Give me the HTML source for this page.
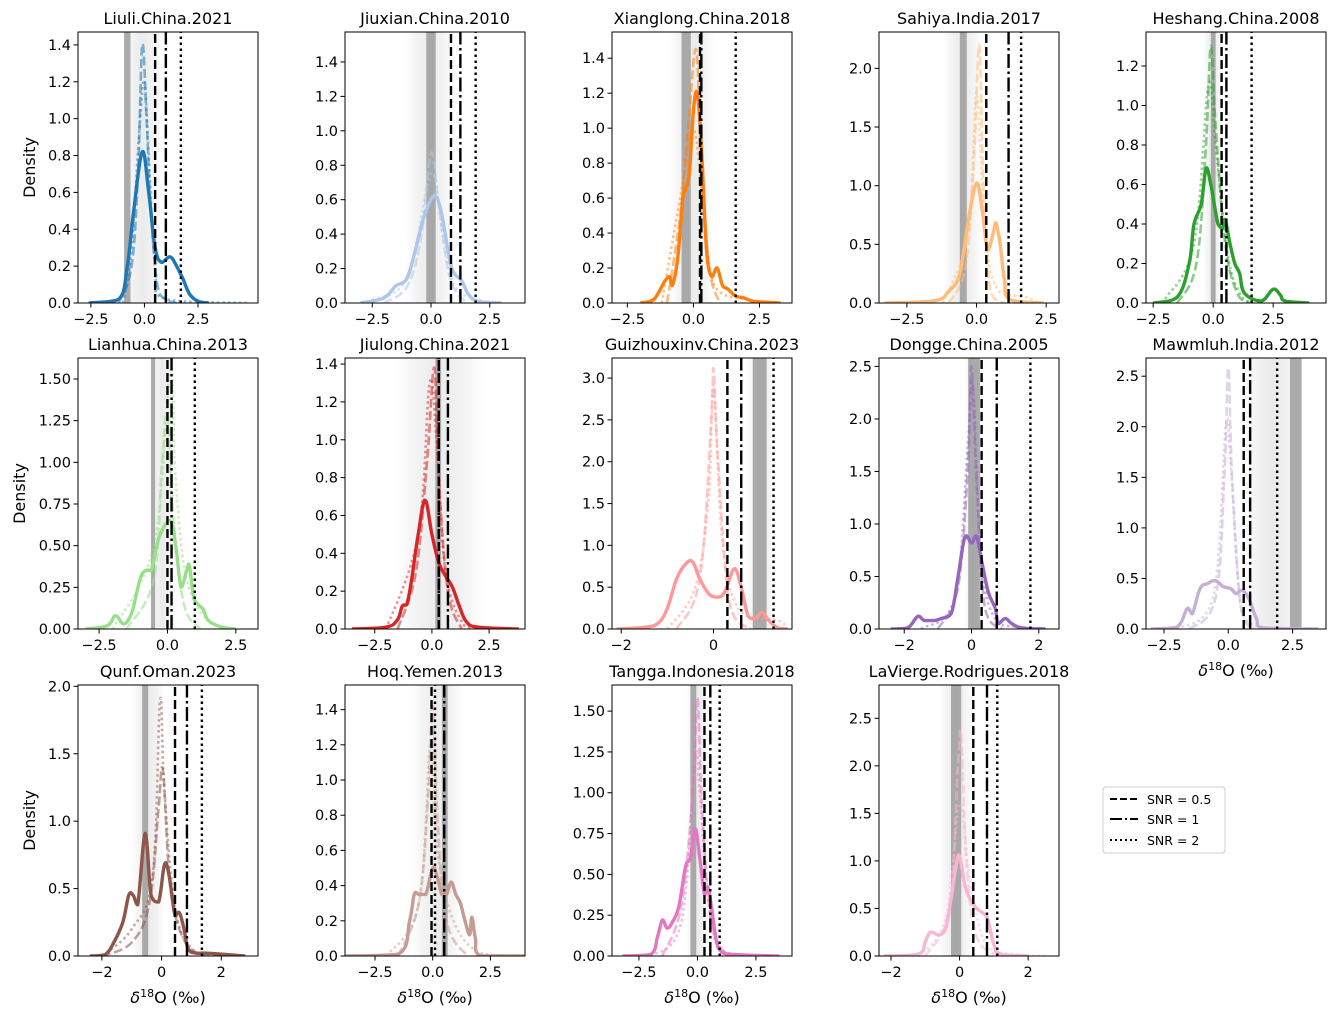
<!DOCTYPE html>
<html><head><meta charset="utf-8">
<style>
html,body{margin:0;padding:0;background:#fff;}
svg{display:block;font-family:"DejaVu Sans","Liberation Sans",sans-serif;}
</style></head>
<body>
<svg id="fig" width="1336" height="1018" viewBox="0 0 1336 1018" xmlns="http://www.w3.org/2000/svg">
<rect width="1336" height="1018" fill="#fff"/>
<g>
<rect x="1103" y="787" width="122" height="66" rx="3" fill="#fff" stroke="#d0d0d0"/>
<line x1="1110" y1="799" x2="1138" y2="799" stroke="#000" stroke-width="2" stroke-dasharray="7,3"/>
<text x="1147" y="804" font-size="12.5">SNR = 0.5</text>
<line x1="1110" y1="819" x2="1138" y2="819" stroke="#000" stroke-width="2" stroke-dasharray="12,3,2,3"/>
<text x="1147" y="824" font-size="12.5">SNR = 1</text>
<line x1="1110" y1="840" x2="1138" y2="840" stroke="#000" stroke-width="2" stroke-dasharray="2,3"/>
<text x="1147" y="845" font-size="12.5">SNR = 2</text>
</g>
</svg>
<script>
const titles=["Liuli.China.2021","Jiuxian.China.2010","Xianglong.China.2018","Sahiya.India.2017","Heshang.China.2008","Lianhua.China.2013","Jiulong.China.2021","Guizhouxinv.China.2023","Dongge.China.2005","Mawmluh.India.2012","Qunf.Oman.2023","Hoq.Yemen.2013","Tangga.Indonesia.2018","LaVierge.Rodrigues.2018"];
const colors=["#1f77b4","#aec7e8","#ff7f0e","#ffbb78","#2ca02c","#98df8a","#d62728","#ff9896","#9467bd","#c5b0d5","#8c564b","#c49c94","#e377c2","#f7b6d2"];
const xlims=[[-3.1,5.3],[-3.66,4.0],[-3.08,3.73],[-3.5,2.96],[-2.8,4.7],[-3.27,3.31],[-3.8,4.07],[-2.2,1.7],[-2.75,2.6],[-3.2,3.8],[-2.8,3.23],[-3.8,4.0],[-3.65,4.04],[-2.35,2.9]];
const ylims=[1.47,1.574,1.55,2.31,1.372,1.626,1.432,3.24,2.58,2.68,2.01,1.54,1.66,2.85];
const yticks=[[0,.2,.4,.6,.8,1,1.2,1.4],[0,.2,.4,.6,.8,1,1.2,1.4],[0,.2,.4,.6,.8,1,1.2,1.4],[0,.5,1,1.5,2],[0,.2,.4,.6,.8,1,1.2],[0,.25,.5,.75,1,1.25,1.5],[0,.2,.4,.6,.8,1,1.2,1.4],[0,.5,1,1.5,2,2.5,3],[0,.5,1,1.5,2,2.5],[0,.5,1,1.5,2,2.5],[0,.5,1,1.5,2],[0,.2,.4,.6,.8,1,1.2,1.4],[0,.25,.5,.75,1,1.25,1.5],[0,.5,1,1.5,2,2.5]];
const ydec=[1,1,1,1,1,2,1,1,1,1,1,1,2,1];
const xticks=[[-2.5,0,2.5],[-2.5,0,2.5],[-2.5,0,2.5],[-2.5,0,2.5],[-2.5,0,2.5],[-2.5,0,2.5],[-2.5,0,2.5],[-2,0],[-2,0,2],[-2.5,0,2.5],[-2,0,2],[-2.5,0,2.5],[-2.5,0,2.5],[-2,0,2]];
const xdec=[1,1,1,1,1,1,1,0,0,1,0,1,1,0];
const bandCore=[[-0.95,-0.65],[-0.2,0.2],[-0.45,-0.1],[-0.6,-0.35],[-0.1,0.1],[-0.6,-0.45],[0.15,0.4],[0.85,1.15],[-0.1,0.25],[2.4,2.85],[-0.65,-0.45],[0.4,0.65],[-0.3,-0.05],[-0.25,0.05]];
const bandHalo=[[-1.0,0.8],[-1.1,1.0],[-0.9,0.8],[-1.2,0.2],[-0.4,0.4],[-0.7,0.3],[-1.6,2.3],[0.7,1.35],[-0.2,0.3],[0.5,3.0],[-1.0,0.1],[-0.9,1.3],[-0.5,0.5],[-0.6,0.4]];
const snr05=[0.5,0.85,0.25,0.35,0.35,0.0,0.3,0.3,0.3,0.6,0.45,-0.05,0.3,0.4];
const snr1=[1.0,1.25,0.3,1.15,0.55,0.15,0.7,0.6,0.75,0.85,0.85,0.5,0.55,0.8];
const snr2=[1.7,1.9,1.6,1.6,1.6,1.0,0.3,1.3,1.75,1.9,1.35,0.1,0.95,1.1];
const mainCurves=[
[[-2.6,0],[-1.2,0.02],[-0.8,0.2],[-0.5,0.5],[-0.1,0.82],[0.2,0.6],[0.5,0.3],[0.8,0.22],[1.2,0.25],[1.5,0.2],[1.8,0.13],[2.1,0.05],[2.5,0.01],[3,0]],
[[-3,0],[-2,0.03],[-1.5,0.1],[-1,0.15],[-0.5,0.4],[-0.3,0.5],[0.1,0.62],[0.4,0.55],[0.8,0.25],[1.0,0.17],[1.3,0.13],[1.6,0.05],[2,0.01],[3,0]],
[[-2,0],[-1.5,0.02],[-1.1,0.12],[-0.9,0.15],[-0.8,0.1],[-0.6,0.25],[-0.4,0.6],[-0.3,0.65],[-0.15,0.75],[0,1.1],[0.15,1.2],[0.3,0.9],[0.5,0.3],[0.7,0.15],[0.9,0.2],[1.1,0.1],[1.3,0.08],[1.6,0.04],[1.9,0.03],[2.3,0.01],[3.3,0]],
[[-3.3,0],[-1.5,0.02],[-1,0.1],[-0.6,0.25],[-0.3,0.7],[0,1.02],[0.2,0.8],[0.4,0.45],[0.6,0.6],[0.7,0.68],[0.85,0.5],[1.0,0.2],[1.2,0.03],[2.4,0]],
[[-2.5,0],[-1.5,0.03],[-1,0.2],[-0.8,0.4],[-0.5,0.5],[-0.3,0.68],[-0.1,0.6],[0.2,0.4],[0.4,0.38],[0.5,0.42],[0.7,0.3],[0.9,0.2],[1.1,0.15],[1.3,0.05],[2,0.01],[2.5,0.07],[2.8,0.04],[3,0.01],[4,0]],
[[-3,0],[-2.2,0.02],[-1.9,0.08],[-1.6,0.03],[-1.3,0.1],[-1.0,0.3],[-0.8,0.35],[-0.6,0.35],[-0.3,0.55],[0.1,0.65],[0.3,0.5],[0.5,0.25],[0.7,0.35],[0.8,0.38],[0.95,0.2],[1.1,0.15],[1.3,0.12],[1.5,0.05],[2,0.01],[2.5,0]],
[[-3.5,0],[-2,0.01],[-1.5,0.05],[-1.3,0.12],[-1.1,0.13],[-0.9,0.25],[-0.6,0.5],[-0.3,0.68],[0,0.5],[0.3,0.35],[0.6,0.28],[0.9,0.22],[1.2,0.12],[1.5,0.04],[2,0.01],[3.8,0]],
[[-2.1,0],[-1.5,0.02],[-1.2,0.07],[-1,0.25],[-0.8,0.6],[-0.6,0.78],[-0.45,0.8],[-0.3,0.6],[-0.1,0.42],[0.1,0.38],[0.25,0.45],[0.45,0.72],[0.6,0.5],[0.75,0.15],[0.9,0.12],[1.05,0.2],[1.2,0.1],[1.4,0.01],[1.6,0]],
[[-2.4,0],[-1.9,0.01],[-1.6,0.12],[-1.4,0.08],[-1.1,0.08],[-0.9,0.1],[-0.6,0.15],[-0.4,0.5],[-0.2,0.87],[0,0.82],[0.15,0.88],[0.3,0.65],[0.5,0.35],[0.7,0.2],[0.8,0.05],[1.0,0.1],[1.2,0.05],[1.5,0.01],[2.2,0]],
[[-3,0],[-2,0.02],[-1.6,0.2],[-1.4,0.15],[-1.1,0.4],[-0.8,0.45],[-0.5,0.48],[-0.2,0.42],[0.1,0.4],[0.3,0.35],[0.55,0.38],[0.8,0.3],[1.1,0.1],[1.4,0.01],[3.5,0]],
[[-2.4,0],[-1.9,0.01],[-1.6,0.1],[-1.3,0.25],[-1.1,0.45],[-0.95,0.45],[-0.8,0.38],[-0.6,0.85],[-0.5,0.85],[-0.35,0.45],[-0.1,0.4],[0.1,0.68],[0.25,0.6],[0.45,0.3],[0.6,0.32],[0.75,0.2],[0.9,0.05],[1.2,0.02],[1.6,0.02],[2.8,0]],
[[-4,0],[-1.5,0.01],[-1,0.2],[-0.8,0.35],[-0.6,0.35],[-0.3,0.35],[0,0.5],[0.2,0.45],[0.4,0.35],[0.6,0.35],[0.8,0.42],[1.0,0.35],[1.2,0.3],[1.4,0.2],[1.6,0.12],[1.7,0.22],[1.85,0.1],[2.1,0],[4,0]],
[[-3.2,0],[-2,0.01],[-1.7,0.12],[-1.5,0.22],[-1.3,0.17],[-1.1,0.2],[-0.8,0.3],[-0.5,0.55],[-0.3,0.6],[-0.1,0.78],[0.1,0.6],[0.3,0.38],[0.45,0.42],[0.6,0.3],[0.8,0.1],[1.0,0.03],[1.5,0.01],[3.5,0]],
[[-2.2,0],[-1.2,0.02],[-1.0,0.15],[-0.85,0.25],[-0.6,0.22],[-0.4,0.3],[-0.25,0.6],[-0.1,0.95],[0,1.05],[0.15,0.75],[0.3,0.6],[0.5,0.5],[0.75,0.43],[0.85,0.35],[1.0,0.12],[1.2,0.02],[2,0]]];
const dashCurves=[
[[-1.2,0],[-0.6,0.2],[-0.3,0.7],[-0.1,1.4],[0.1,1.0],[0.3,0.5],[0.6,0.1],[1.0,0.02],[1.5,0]],
[[-2,0],[-1,0.1],[-0.4,0.4],[0,0.87],[0.3,0.6],[0.8,0.15],[1.5,0]],
[[-1,0],[-0.5,0.5],[-0.2,1.0],[0.1,1.45],[0.3,0.8],[0.6,0.2],[1,0]],
[[-1,0],[-0.4,0.3],[-0.1,1.2],[0.1,2.2],[0.25,1.0],[0.5,0.1],[1,0]],
[[-1.5,0],[-0.7,0.2],[-0.3,0.8],[-0.1,1.3],[0.1,0.9],[0.5,0.3],[1,0.05],[1.5,0]],
[[-1.5,0],[-0.5,0.3],[-0.2,1.0],[0,1.28],[0.2,0.7],[0.6,0.15],[1.2,0]],
[[-1.5,0],[-0.7,0.3],[-0.2,0.9],[0.1,1.38],[0.3,0.8],[0.7,0.2],[1.3,0]],
[[-0.8,0],[-0.3,0.6],[-0.05,2.5],[0,3.1],[0.1,2.0],[0.35,0.3],[0.8,0]],
[[-1,0],[-0.4,0.4],[-0.1,1.6],[0,2.5],[0.15,1.4],[0.4,0.2],[0.9,0]],
[[-1.5,0],[-0.5,0.3],[-0.15,1.5],[0,2.58],[0.15,1.5],[0.5,0.2],[1,0]],
[[-2,0],[-1,0.1],[-0.4,0.4],[-0.1,1.1],[0.05,1.37],[0.3,0.5],[0.8,0.1],[1.5,0]],
[[-1.5,0],[-0.6,0.3],[-0.2,0.9],[0,1.42],[0.2,0.8],[0.6,0.2],[1.5,0]],
[[-1.5,0],[-0.7,0.3],[-0.2,1.0],[0,1.58],[0.2,0.9],[0.6,0.2],[1.3,0]],
[[-1,0],[-0.3,0.5],[-0.05,2.0],[0.05,2.3],[0.2,1.0],[0.5,0.2],[1.2,0]]];
const dotCurves=[
[[-1,0],[-0.6,0.3],[-0.2,1.0],[0,1.2],[0.2,0.8],[0.5,0.2],[1,0.02],[4.8,0]],
[[-2.5,0.02],[-1,0.15],[0,0.75],[0.5,0.4],[1,0.1],[2,0.02],[3,0]],
[[-1.2,0],[-0.5,0.6],[0,1.0],[0.4,0.5],[0.8,0.1],[2,0.02],[3,0]],
[[-1.2,0],[-0.3,0.6],[0,1.8],[0.3,0.6],[0.8,0.1],[1.8,0.05],[2.2,0]],
[[-2,0.02],[-0.8,0.3],[-0.2,1.1],[0.1,0.8],[0.6,0.25],[1.1,0.05],[1.6,0]],
[[-2,0],[-0.5,0.5],[0.1,1.55],[0.3,0.9],[0.7,0.3],[1.5,0.05],[2.5,0]],
[[-2,0],[-0.6,0.5],[-0.1,1.3],[0.2,1.0],[0.6,0.3],[1.4,0.02],[2,0]],
[[-1,0],[-0.4,0.5],[-0.1,1.6],[0,2.9],[0.2,1.0],[0.6,0.2],[1.4,0.1],[1.6,0]],
[[-1.5,0],[-0.5,0.3],[-0.1,1.8],[0.05,2.3],[0.3,0.6],[0.8,0.05],[1.4,0.02],[2,0]],
[[-2,0],[-0.6,0.3],[-0.1,2.0],[0.1,1.6],[0.5,0.2],[1.2,0.02],[2,0]],
[[-2,0],[-1,0.2],[-0.3,0.6],[-0.05,1.9],[0.1,1.2],[0.5,0.3],[1.2,0.02],[2,0]],
[[-2,0],[-0.6,0.3],[-0.1,1.2],[0.2,0.6],[0.9,0.2],[2,0.02],[3.5,0]],
[[-2,0],[-0.7,0.2],[-0.1,1.2],[0.1,1.0],[0.5,0.3],[1.2,0.02],[3.5,0]],
[[-1.2,0],[-0.4,0.4],[0,1.6],[0.3,0.8],[0.8,0.1],[1.6,0.02],[2.5,0]]];

const NS="http://www.w3.org/2000/svg";
const svg=document.getElementById('fig');
const colLeft=[78,345,612,879,1146], rowTop=[32,358,685], PW=180, PH=271;
function mk(tag,attrs,parent){const e=document.createElementNS(NS,tag);for(const k in attrs)e.setAttribute(k,attrs[k]);(parent||svg).appendChild(e);return e;}
function fmt(v,d){const s=Math.abs(v).toFixed(d);return (v<0?"\u2212":"")+s;}
function smoothPath(pts){
  if(pts.length<2)return "";
  let d="M"+pts[0][0].toFixed(1)+","+pts[0][1].toFixed(1);
  for(let i=0;i<pts.length-1;i++){
    const p0=pts[i-1]||pts[i],p1=pts[i],p2=pts[i+1],p3=pts[i+2]||p2;
    const t=0.18;
    let c1y=p1[1]+(p2[1]-p0[1])*t, c2y=p2[1]-(p3[1]-p1[1])*t;
    const by=Math.max(p1[1],p2[1]);
    c1y=Math.min(c1y,by); c2y=Math.min(c2y,by);
    const c1x=p1[0]+(p2[0]-p0[0])*t, c2x=p2[0]-(p3[0]-p1[0])*t;
    d+=" C"+c1x.toFixed(1)+","+c1y.toFixed(1)+" "+c2x.toFixed(1)+","+c2y.toFixed(1)+" "+p2[0].toFixed(1)+","+p2[1].toFixed(1);
  }
  return d;
}
const defs=mk('defs',{});
titles.forEach((title,i)=>{
  const col=i%5,row=Math.floor(i/5);
  const L=colLeft[col],T=rowTop[row],B=T+PH,R=L+PW;
  const [x0,x1]=xlims[i],ymax=ylims[i];
  const sx=v=>L+(v-x0)/(x1-x0)*PW, sy=v=>B-v/ymax*PH;
  const g=mk('g',{});
  
  
  const cp=mk('clipPath',{id:'cp'+i},defs);
  mk('rect',{x:L,y:T,width:PW,height:PH},cp);
  const plot=mk('g',{'clip-path':'url(#cp'+i+')'},g);
  const gr=mk('linearGradient',{id:'hg'+i,x1:0,x2:1,y1:0,y2:0},defs);
  [[0,0],[0.25,0.05],[0.5,0.08],[0.75,0.05],[1,0]].forEach(s=>mk('stop',{offset:s[0],'stop-color':'#000','stop-opacity':s[1]},gr));
  const h=bandHalo[i];
  const halo=mk('rect',{x:sx(h[0]),y:T,width:sx(h[1])-sx(h[0]),height:PH,fill:'url(#hg'+i+')'},plot);
  
  
  const c=bandCore[i];
  const core=mk('rect',{x:sx(c[0]),y:T,width:sx(c[1])-sx(c[0]),height:PH,fill:'#9c9c9c','fill-opacity':0.85},plot);
  
  
  const pd=mk('path',{d:smoothPath(dashCurves[i].map(p=>[sx(p[0]),sy(p[1])])),fill:'none',stroke:colors[i],'stroke-opacity':0.55,'stroke-width':2.6,'stroke-dasharray':'9,3.5'},plot);
  
  
  const pt=mk('path',{d:smoothPath(dotCurves[i].map(p=>[sx(p[0]),sy(p[1])])),fill:'none',stroke:colors[i],'stroke-opacity':0.5,'stroke-width':2.6,'stroke-dasharray':'2.5,3'},plot);
  
  
  const pm=mk('path',{d:smoothPath(mainCurves[i].map(p=>[sx(p[0]),sy(p[1])])),fill:'none',stroke:colors[i],'stroke-width':3.4,'stroke-linejoin':'round'},plot);
  
  
  [[snr05[i],'9,4','snr-0.5-line'],[snr1[i],'14,3.5,2.5,3.5','snr-1-line'],[snr2[i],'2.5,3.5','snr-2-line']].forEach(s=>{
    const ln=mk('line',{x1:sx(s[0]),x2:sx(s[0]),y1:B,y2:T,stroke:'#000','stroke-width':2.4,'stroke-dasharray':s[1]},plot);
    
    
  });
  const fr=mk('rect',{x:L,y:T,width:PW,height:PH,fill:'none',stroke:'#000','stroke-width':1},g);
  
  
  yticks[i].forEach(v=>{
    const y=sy(v);
    mk('line',{x1:L-4.5,x2:L,y1:y,y2:y,stroke:'#000','stroke-width':1},g);
    const t=mk('text',{x:L-7,y:y+5,'font-size':14.5,'text-anchor':'end'},g);
    t.textContent=fmt(v,ydec[i]);
    
    
  });
  xticks[i].forEach(v=>{
    const x=sx(v);
    mk('line',{x1:x,x2:x,y1:B,y2:B+4.5,stroke:'#000','stroke-width':1},g);
    const t=mk('text',{x:x,y:B+21,'font-size':14.5,'text-anchor':'middle'},g);
    t.textContent=fmt(v,xdec[i]);
    
    
  });
  const tt=mk('text',{x:L+PW/2,y:T-8,'font-size':16,'text-anchor':'middle'},g);
  tt.textContent=title;
  
  
  if(col===0){
    const yl=mk('text',{x:0,y:0,'font-size':16,'text-anchor':'middle',transform:'translate('+(row===1?25:35)+','+(T+PH/2)+') rotate(-90)'},g);
    yl.textContent='Density';
    
    
  }
  if(row===2||i===9){
    const xl=mk('text',{x:L+PW/2,y:B+47,'font-size':16,'text-anchor':'middle'},g);
    xl.innerHTML='<tspan font-style="italic">δ</tspan><tspan font-size="11" dy="-6">18</tspan><tspan dy="6">O (‰)</tspan>';
    
    
  }
});
</script>
</body></html>
